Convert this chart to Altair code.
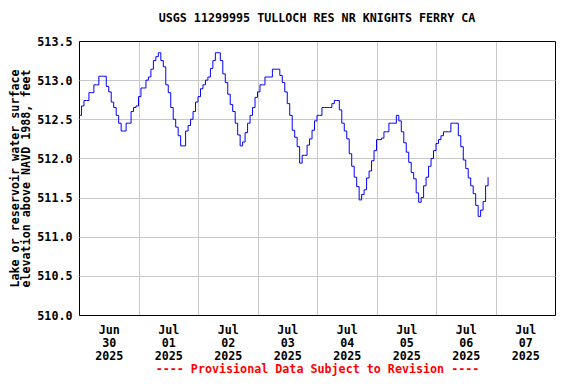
import altair as alt
import pandas as pd

# Hourly reservoir elevation readings (ft), starting 2025-06-30 00:00
values = [
    512.55, 512.67, 512.74, 512.74, 512.84, 512.84, 512.94, 512.94, 513.05, 513.05,
    513.05, 512.92, 512.85, 512.72, 512.65, 512.55, 512.45, 512.35, 512.35, 512.45,
    512.45, 512.60, 512.65, 512.67,
    512.79, 512.90, 512.90, 513.00, 513.04, 513.14, 513.25, 513.30, 513.35, 513.25,
    513.17, 512.94, 512.84, 512.65, 512.50, 512.40, 512.29, 512.16, 512.16, 512.35,
    512.42, 512.50, 512.60, 512.72,
    512.79, 512.89, 512.94, 513.00, 513.04, 513.15, 513.25, 513.35, 513.35, 513.25,
    513.08, 512.97, 512.82, 512.69, 512.60, 512.45, 512.30, 512.16, 512.21, 512.33,
    512.45, 512.55, 512.65, 512.78,
    512.85, 512.94, 512.94, 513.04, 513.04, 513.04, 513.14, 513.14, 513.14, 513.06,
    512.97, 512.85, 512.70, 512.55, 512.36, 512.27, 512.15, 511.94, 512.04, 512.04,
    512.17, 512.25, 512.36, 512.48,
    512.55, 512.55, 512.65, 512.65, 512.65, 512.65, 512.70, 512.74, 512.74, 512.62,
    512.45, 512.35, 512.25, 512.06, 511.90, 511.76, 511.64, 511.47, 511.54, 511.60,
    511.75, 511.84, 511.97, 512.10,
    512.24, 512.24, 512.26, 512.34, 512.34, 512.45, 512.45, 512.45, 512.55, 512.48,
    512.34, 512.20, 512.08, 511.95, 511.82, 511.74, 511.56, 511.44, 511.50, 511.65,
    511.76, 511.90, 512.00, 512.10,
    512.19, 512.24, 512.29, 512.34, 512.34, 512.34, 512.45, 512.45, 512.45, 512.29,
    512.15, 511.98, 511.87, 511.75, 511.65, 511.55, 511.40, 511.26, 511.34, 511.45,
    511.65, 511.76,
]
start = "2025-06-30T00:00:00"
y_ticks = [510.0, 510.5, 511.0, 511.5, 512.0, 512.5, 513.0, 513.5]
day_ticks = ["2025-06-30", "2025-07-01", "2025-07-02", "2025-07-03",
             "2025-07-04", "2025-07-05", "2025-07-06", "2025-07-07", "2025-07-08"]

times = pd.date_range(start, periods=len(values), freq="h")
df = pd.DataFrame({"t": times.strftime("%Y-%m-%dT%H:%M:%S"), "v": values})

FONT = "DejaVu Sans Mono"
FS = 11.7
GRID = "#c8c8c8"

tick_vals = [alt.DateTime(year=int(d[:4]), month=int(d[5:7]), date=int(d[8:]), hours=0)
             for d in day_ticks]

x_edge = "(month(datum.value) == 5 && date(datum.value) == 30) || (month(datum.value) == 6 && date(datum.value) == 8)"
y_edge = "datum.value <= 510.0 || datum.value >= 513.5"

chart = alt.Chart(df).mark_line(
    interpolate="step-after", color="#0000ff", strokeWidth=1
).encode(
    x=alt.X("t:T",
            scale=alt.Scale(domain=[alt.DateTime(year=2025, month=6, date=30, hours=0),
                                    alt.DateTime(year=2025, month=7, date=8, hours=0)]),
            axis=alt.Axis(
                values=tick_vals,
                title="---- Provisional Data Subject to Revision ----",
                titleColor="#ff0000",
                titleFont=FONT, titleFontSize=FS, titleFontWeight="bold",
                titlePadding=1,
                labelExpr="(month(datum.value) == 6 && date(datum.value) == 8) ? '' : [timeFormat(datum.value, '%b'), timeFormat(datum.value, '%d'), timeFormat(datum.value, '%Y')]",
                labelOffset=29.75,
                labelFont=FONT, labelFontSize=FS, labelFontWeight="bold",
                labelColor="black", labelLineHeight=13.2, labelPadding=9,
                labelOverlap=False, labelFlush=False, labelBound=False,
                ticks=False, domain=False,
                grid=True, gridWidth=1,
                gridColor={"condition": {"test": x_edge, "value": "black"}, "value": GRID},
            )),
    y=alt.Y("v:Q",
            scale=alt.Scale(domain=[510.0, 513.5], nice=False, zero=False),
            axis=alt.Axis(
                values=y_ticks, format=".1f",
                title=["Lake or reservoir water surface", "elevation above NAVD 1988, feet"],
                titleFont=FONT, titleFontSize=FS, titleFontWeight="bold",
                titleColor="black", titleLineHeight=11, titlePadding=5,
                labelFont=FONT, labelFontSize=FS, labelFontWeight="bold",
                labelColor="black", labelPadding=7,
                ticks=False, domain=False,
                grid=True, gridWidth=1,
                gridColor={"condition": {"test": y_edge, "value": "black"}, "value": GRID},
            )),
).properties(
    width=476, height=274,
    title=alt.TitleParams("USGS 11299995 TULLOCH RES NR KNIGHTS FERRY CA",
                          font=FONT, fontSize=FS, fontWeight="bold", color="black",
                          anchor="middle", offset=11),
    autosize=alt.AutoSizeParams(type="none"),
    padding={"left": 71, "top": 33, "right": 13, "bottom": 61},
).configure_view(stroke=None).configure(background="white")

chart.save("out.html", embed_options={"renderer": "svg", "actions": False})
